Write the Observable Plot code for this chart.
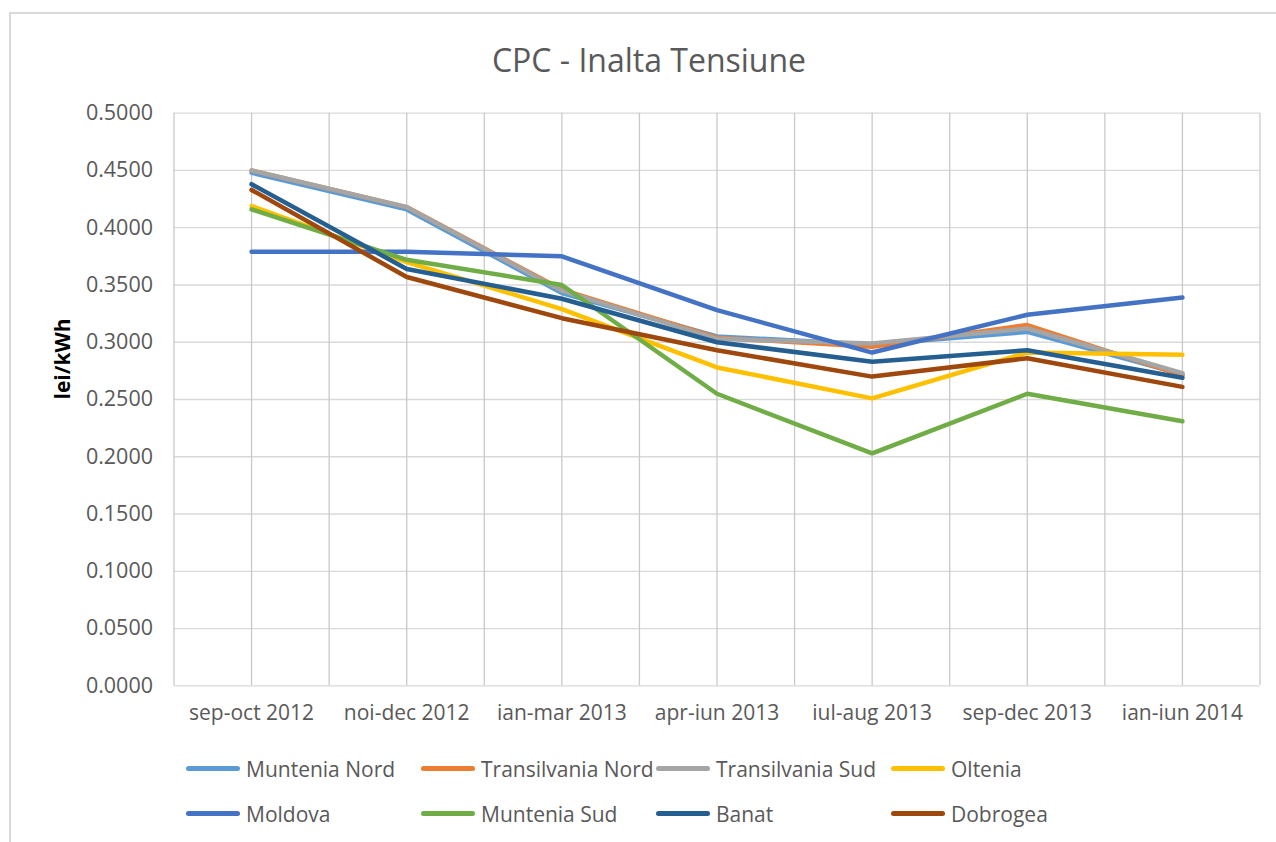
<!DOCTYPE html>
<html>
<head>
<meta charset="utf-8">
<script src="https://cdn.jsdelivr.net/npm/d3@7"></script>
<script src="https://cdn.jsdelivr.net/npm/@observablehq/plot@0.6"></script>
<style>
  html, body { margin: 0; padding: 0; background: #fff; overflow: hidden; }
  #wrap { position: relative; width: 1276px; height: 842px; font-family: "Open Sans", sans-serif; }
  #frame { position: absolute; left: 9px; top: 12px; width: 1400px; height: 1000px; border: 2px solid #d9d9d9; box-sizing: border-box; }
  #title { position: absolute; left: 0; top: 38px; width: 1298px; text-align: center; font-size: 32px; color: #595959; line-height: 44px; }
  #chart { position: absolute; left: 0; top: 90px; }
  #legend { position: absolute; left: 186px; top: 746px; display: grid; grid-template-columns: repeat(4, 235px); grid-auto-rows: 45px; }
  .item { display: flex; align-items: center; font-size: 21px; color: #595959; white-space: nowrap; }
  .sw { display: inline-block; width: 54px; height: 4.5px; border-radius: 3px; margin-right: 6px; }
</style>
</head>
<body>
<div id="wrap">
  <div id="frame"></div>
  <div id="title">CPC - Inalta Tensiune</div>
  <div id="chart"></div>
  <div id="legend"></div>
</div>
<script>
const categories = ["sep-oct 2012", "noi-dec 2012", "ian-mar 2013", "apr-iun 2013", "iul-aug 2013", "sep-dec 2013", "ian-iun 2014"];
const seriesNames = ["Muntenia Nord", "Transilvania Nord", "Transilvania Sud", "Oltenia", "Moldova", "Muntenia Sud", "Banat", "Dobrogea"];
const seriesColors = ["#5B9BD5", "#ED7D31", "#A5A5A5", "#FFC000", "#4472C4", "#70AD47", "#255E91", "#9E480E"];
const yTicks = [0, 0.05, 0.1, 0.15, 0.2, 0.25, 0.3, 0.35, 0.4, 0.45, 0.5];

const munteniaNord     = [0.448, 0.416, 0.343, 0.305, 0.298, 0.309, 0.272];
const transilvaniaNord = [0.450, 0.418, 0.346, 0.304, 0.296, 0.315, 0.271];
const transilvaniaSud  = [0.450, 0.418, 0.345, 0.303, 0.299, 0.312, 0.273];
const oltenia          = [0.419, 0.370, 0.329, 0.278, 0.251, 0.291, 0.289];
const moldova          = [0.379, 0.379, 0.375, 0.328, 0.291, 0.324, 0.339];
const munteniaSud      = [0.416, 0.372, 0.350, 0.255, 0.203, 0.255, 0.231];
const banat            = [0.438, 0.364, 0.338, 0.300, 0.283, 0.293, 0.269];
const dobrogea         = [0.433, 0.357, 0.321, 0.293, 0.270, 0.286, 0.261];

const seriesValues = [munteniaNord, transilvaniaNord, transilvaniaSud, oltenia, moldova, munteniaSud, banat, dobrogea];

const rows = [];
seriesNames.forEach((name, s) => {
  seriesValues[s].forEach((v, i) => rows.push({series: name, i, value: v}));
});

const xIdx = categories.map((_, i) => i);
const xGrid = d3.range(-0.5, categories.length, 0.5);

const chart = Plot.plot({
  width: 1276,
  height: 660,
  marginLeft: 173.5,
  marginRight: 16.5,
  marginTop: 22.7,
  marginBottom: 64.7,
  style: {fontFamily: "Open Sans, sans-serif", fontSize: "21px", color: "#595959", background: "transparent"},
  x: {type: "linear", domain: [-0.5, categories.length - 0.5]},
  y: {domain: [0, 0.5]},
  color: {domain: seriesNames, range: seriesColors},
  marks: [
    Plot.ruleY(yTicks, {stroke: "#d9d9d9", strokeWidth: 1.3}),
    Plot.ruleX(xGrid, {stroke: "#c9c9c9", strokeWidth: 1.3}),
    Plot.axisY({ticks: yTicks, tickFormat: d3.format(".4f"), tickSize: 0, tickPadding: 21, label: null, fill: "#595959", fontSize: 21.5}),
    Plot.axisX({ticks: xIdx, tickFormat: i => categories[i], tickSize: 0, tickPadding: 19, label: null, fill: "#595959", fontSize: 21}),
    Plot.text(["lei/kWh"], {frameAnchor: "left", rotate: -90, dx: -111, fontWeight: "bold", fontSize: 21, fill: "#000"}),
    Plot.line(rows, {x: "i", y: "value", z: "series", stroke: "series", strokeWidth: 4.5, strokeLinecap: "round", strokeLinejoin: "round"})
  ]
});
document.getElementById("chart").appendChild(chart);

const legend = document.getElementById("legend");
seriesNames.forEach((name, s) => {
  const item = document.createElement("div");
  item.className = "item";
  const sw = document.createElement("span");
  sw.className = "sw";
  sw.style.background = seriesColors[s];
  item.appendChild(sw);
  item.appendChild(document.createTextNode(name));
  legend.appendChild(item);
});
</script>
</body>
</html>
